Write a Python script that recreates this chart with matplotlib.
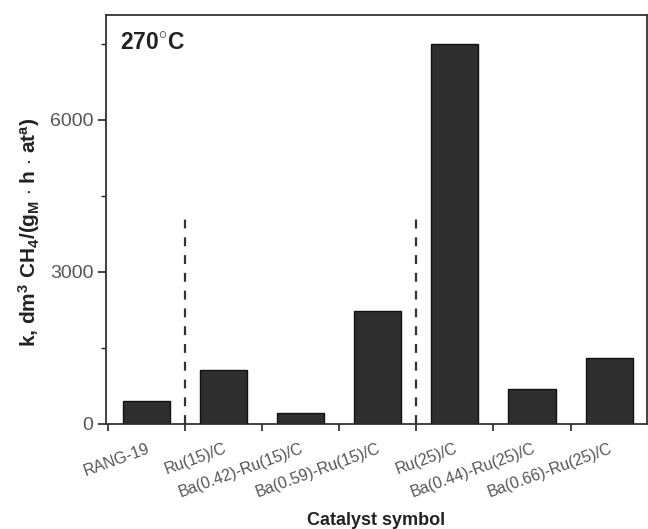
import matplotlib
matplotlib.use("Agg")
import matplotlib.pyplot as plt
from matplotlib.ticker import FixedLocator, MultipleLocator

plt.rcParams['font.family'] = ['Liberation Sans', 'DejaVu Sans']
plt.rcParams['mathtext.fontset'] = 'custom'
plt.rcParams['mathtext.rm'] = 'Liberation Sans'
plt.rcParams['mathtext.bf'] = 'Liberation Sans:bold'
plt.rcParams['mathtext.it'] = 'Liberation Sans:italic'
plt.rcParams['mathtext.default'] = 'bf'

categories = ["RANG-19", "Ru(15)/C", "Ba(0.42)-Ru(15)/C", "Ba(0.59)-Ru(15)/C",
              "Ru(25)/C", "Ba(0.44)-Ru(25)/C", "Ba(0.66)-Ru(25)/C"]
values = [450, 1070, 210, 2230, 7500, 700, 1300]
divider_pos = [0.5, 3.5]
divider_top = [4050, 4100]
yticks_major = [0, 3000, 6000]

fig = plt.figure(figsize=(6.48, 5.29), dpi=100)
ax = fig.add_axes([106/648, 1-424/529, (647-106)/648, (424-15)/529])

x = list(range(len(categories)))
ax.bar(x, values, width=0.61, color='#2e2e2e', edgecolor='#111111', linewidth=1.0, zorder=3)
for p, t in zip(divider_pos, divider_top):
    ax.plot([p, p], [0, t], color='#333333', linestyle=(0, (4, 4)), linewidth=1.6, zorder=2)

ax.set_xlim(-0.52, 6.49)
ax.set_ylim(0, 8070)

ax.xaxis.set_major_locator(FixedLocator([i - 0.5 for i in range(8)]))
ax.xaxis.set_major_formatter(plt.NullFormatter())
ax.xaxis.set_minor_locator(FixedLocator(x))
ax.set_xticklabels(categories, minor=True, rotation=20, ha='right', rotation_mode='anchor',
                   fontsize=11.5, color='#555555')
ax.tick_params(axis='x', which='minor', length=0, pad=12)
ax.tick_params(axis='x', which='major', direction='out', length=5, width=1.2, color='#222222')

ax.set_yticks(yticks_major)
ax.yaxis.set_minor_locator(MultipleLocator(1500))
ax.tick_params(axis='y', which='major', direction='out', length=6, width=1.2,
               labelsize=14, labelcolor='#555555', color='#222222', pad=3)
ax.tick_params(axis='y', which='minor', direction='out', length=3.5, width=1.0, color='#222222')

for s in ax.spines.values():
    s.set_linewidth(1.3)
    s.set_color('#333333')

ax.set_ylabel(r"k, dm$^{3}$ CH$_{4}$/(g$_{M}$ $\cdot$ h $\cdot$ at$^{a}$)", fontsize=15,
              fontweight='bold', color='#222222')
ax.yaxis.set_label_coords(-0.118, 0.47)
ax.set_xlabel("Catalyst symbol", fontsize=13, fontweight='bold', color='#222222')
ax.xaxis.set_label_coords(0.5, -0.215)

ax.text(0.026, 0.962, r"270$^{\circ}$C", transform=ax.transAxes, fontsize=16.5,
        fontweight='bold', ha='left', va='top', color='#222222')

fig.savefig("out.png", dpi=100)
